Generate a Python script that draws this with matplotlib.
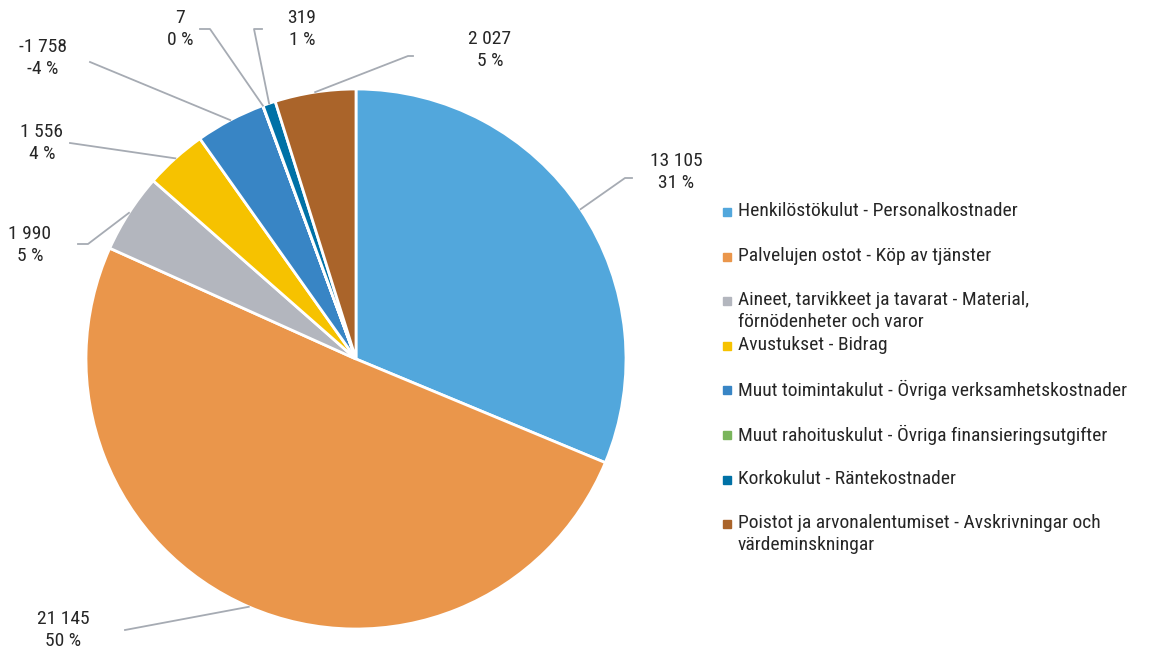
import numpy as np
import matplotlib; matplotlib.use("Agg")
import matplotlib.pyplot as plt
from matplotlib import font_manager

# --- data -------------------------------------------------------------------
categories = [
    "Henkilöstökulut - Personalkostnader",
    "Palvelujen ostot - Köp av tjänster",
    "Aineet, tarvikkeet ja tavarat - Material,\nförnödenheter och varor",
    "Avustukset - Bidrag",
    "Muut toimintakulut - Övriga verksamhetskostnader",
    "Muut rahoituskulut - Övriga finansieringsutgifter",
    "Korkokulut - Räntekostnader",
    "Poistot ja arvonalentumiset - Avskrivningar och\nvärdeminskningar",
]
values = [13105, 21145, 1990, 1556, -1758, 7, 319, 2027]
value_labels = ["13 105", "21 145", "1 990", "1 556", "-1 758", "7", "319", "2 027"]
pct_labels = ["31 %", "50 %", "5 %", "4 %", "-4 %", "0 %", "1 %", "5 %"]
colors = ["#52A7DC", "#EA964B", "#B3B6BE", "#F6C200",
          "#3885C5", "#7AB55C", "#0071A6", "#AA642A"]

# label text centre / leader elbow / leader end (figure pixels, y from top)
label_xy = [(676, 172), (63, 630), (30, 245), (42, 143), (43, 58), (180, 29), (302, 29), (490, 50)]
elbow_xy = [(625, 178), (125, 630), (88, 244), (70, 143), (90, 62), (210, 29), (254, 29), (408, 56)]
end_xy = [(632, 178), (125, 630), (78, 244), (70, 143), (90, 62), (200, 29), (262, 29), (413, 56)]

# --- fonts ------------------------------------------------------------------
avail = {f.name for f in font_manager.fontManager.ttflist}
fam = [f for f in ["Liberation Sans Narrow", "Roboto Condensed", "Liberation Sans"] if f in avail]
plt.rcParams["font.family"] = fam + ["DejaVu Sans"]
TXT = "#262626"
LINE = "#A6ABB3"

W, H = 1153, 657
CX, CY, R = 356, 359, 270
fig = plt.figure(figsize=(W / 100, H / 100), dpi=100)

ax = fig.add_axes([(CX - R) / W, 1 - (CY + R) / H, 2 * R / W, 2 * R / H])
sizes = np.abs(values)
wedges, _ = ax.pie(sizes, colors=colors, startangle=90, counterclock=False,
                   radius=1.0, wedgeprops=dict(edgecolor="white", linewidth=2))
ax.set_xlim(-1, 1); ax.set_ylim(-1, 1)
ax.set_aspect("auto")
ax.axis("off")

# overlay in pixel coordinates for labels and legend
ov = fig.add_axes([0, 0, 1, 1])
ov.set_xlim(0, W); ov.set_ylim(H, 0)
ov.axis("off")
ov.patch.set_alpha(0)

for i, w in enumerate(wedges):
    th = np.deg2rad((w.theta1 + w.theta2) / 2)
    ax_px = CX + R * np.cos(th)
    ay_px = CY - R * np.sin(th)
    ov.plot([ax_px, elbow_xy[i][0], end_xy[i][0]],
            [ay_px, elbow_xy[i][1], end_xy[i][1]], color=LINE, lw=1.3)
    ov.text(label_xy[i][0], label_xy[i][1], f"{value_labels[i]}\n{pct_labels[i]}",
            ha="center", va="center", fontsize=14, color=TXT, linespacing=1.25)

# legend
leg_x, leg_y0, leg_dy = 727, 212, 44.6
for i, (name, c) in enumerate(zip(categories, colors)):
    y = leg_y0 + i * leg_dy
    ov.plot(leg_x, y, marker="s", ms=5.5, color=c, mec=c)
    ov.text(leg_x + 11, y - 10, name, ha="left", va="top", fontsize=14,
            color=TXT, linespacing=1.25)

fig.savefig("out.png", dpi=100)
